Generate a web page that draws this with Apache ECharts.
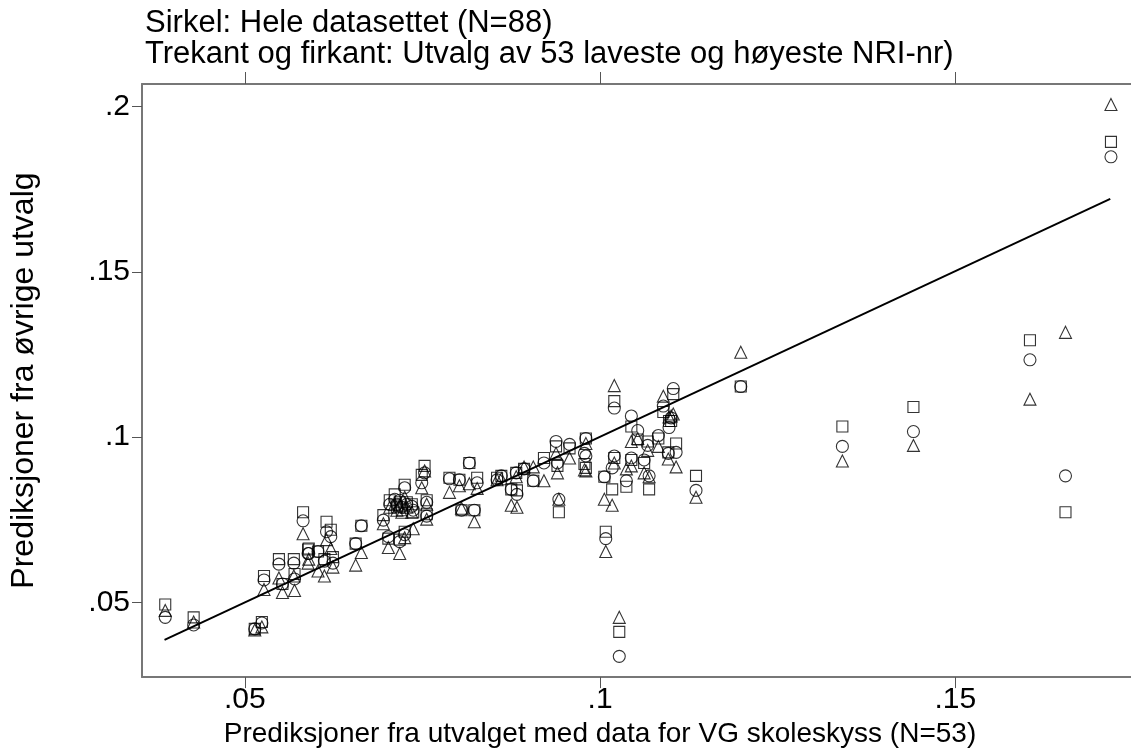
<!DOCTYPE html>
<html>
<head>
<meta charset="utf-8">
<script src="https://cdn.jsdelivr.net/npm/echarts@6/dist/echarts.min.js"></script>
<style>
html,body{margin:0;padding:0;background:#fff;}
#chart{width:1131px;height:753px;}
</style>
</head>
<body>
<div id="chart"></div>
<script>
const titleLines = ['Sirkel: Hele datasettet (N=88)', 'Trekant og firkant: Utvalg av 53 laveste og høyeste NRI-nr)'];
const xAxisTitle = 'Prediksjoner fra utvalget med data for VG skoleskyss (N=53)';
const yAxisTitle = 'Prediksjoner fra øvrige utvalg';
const xTicks = [0.05, 0.1, 0.15];
const yTicks = [0.05, 0.1, 0.15, 0.2];

const xValues = [0.0388,0.0428,0.0514,0.0524,0.0527,0.0548,0.0553,0.0569,0.0570,0.0582,0.0589,0.0590,0.0603,0.0612,0.0615,0.0621,0.0624,0.0656,0.0664,0.0695,0.0702,0.0718,0.0725,0.0704,0.0711,0.0725,0.0714,0.0721,0.0728,0.0735,0.0718,0.0737,0.0749,0.0753,0.0756,0.0756,0.0788,0.0802,0.0816,0.0823,0.0805,0.0827,0.0855,0.0861,0.0875,0.0883,0.0882,0.0893,0.0906,0.0921,0.0938,0.0940,0.0942,0.0957,0.0978,0.0980,0.0980,0.1006,0.1008,0.1017,0.1020,0.1020,0.1027,0.1037,0.1044,0.1044,0.1053,0.1062,0.1067,0.1069,0.1082,0.1089,0.1100,0.1103,0.1097,0.1107,0.1096,0.1135,0.1198,0.1341,0.1441,0.1605,0.1655,0.1719];

const ySquare = [0.0494,0.0455,0.0420,0.0441,0.0580,0.0631,0.0556,0.0631,0.0586,0.0773,0.0660,0.0663,0.0654,0.0631,0.0744,0.0720,0.0637,0.0678,0.0732,0.0764,0.0693,0.0690,0.0714,0.0809,0.0827,0.0856,0.0788,0.0779,0.0803,0.0797,0.0803,0.0773,0.0886,0.0913,0.0809,0.0767,0.0877,0.0871,0.0922,0.0779,0.0779,0.0877,0.0877,0.0883,0.0842,0.0839,0.0892,0.0904,0.0868,0.0937,0.0972,0.0913,0.0773,0.0966,0.0919,0.0996,0.0907,0.0880,0.0714,0.0842,0.1109,0.0937,0.0411,0.0850,0.1032,0.0931,0.0993,0.0922,0.0987,0.0842,0.0996,0.1076,0.1049,0.1130,0.1049,0.0981,0.0954,0.0883,0.1153,0.1032,0.1091,0.1293,0.0773,0.1893];

const yCircle = [0.0455,0.0432,0.0420,0.0438,0.0568,0.0616,0.0556,0.0619,0.0571,0.0747,0.0648,0.0648,0.0654,0.0625,0.0714,0.0699,0.0619,0.0678,0.0732,0.0749,0.0699,0.0684,0.0705,0.0797,0.0812,0.0847,0.0797,0.0788,0.0797,0.0791,0.0809,0.0779,0.0862,0.0892,0.0803,0.0761,0.0874,0.0871,0.0922,0.0779,0.0779,0.0862,0.0871,0.0883,0.0842,0.0827,0.0892,0.0904,0.0868,0.0922,0.0987,0.0922,0.0812,0.0978,0.0951,0.0996,0.0943,0.0880,0.0693,0.0907,0.1088,0.0943,0.0337,0.0868,0.1064,0.0937,0.1020,0.0931,0.0975,0.0883,0.1005,0.1094,0.1058,0.1147,0.1029,0.0954,0.0951,0.0839,0.1153,0.0972,0.1017,0.1234,0.0883,0.1848];

const yTriangle = [0.0476,0.0441,0.0417,0.0426,0.0539,0.0574,0.0530,0.0580,0.0536,0.0708,0.0619,0.0631,0.0595,0.0580,0.0690,0.0663,0.0607,0.0613,0.0651,0.0738,0.0666,0.0648,0.0696,0.0788,0.0797,0.0818,0.0779,0.0773,0.0788,0.0773,0.0794,0.0723,0.0847,0.0898,0.0797,0.0752,0.0833,0.0853,0.0859,0.0744,0.0785,0.0845,0.0871,0.0874,0.0794,0.0788,0.0880,0.0910,0.0910,0.0868,0.0951,0.0892,0.0812,0.0937,0.0901,0.0981,0.0898,0.0812,0.0654,0.0794,0.1156,0.0922,0.0455,0.0904,0.0987,0.0913,0.0996,0.0892,0.0960,0.0880,0.0972,0.1124,0.1064,0.1070,0.1061,0.0910,0.0934,0.0818,0.1257,0.0928,0.0975,0.1115,0.1317,0.2006];

const fitLineX = [0.0387, 0.1718];
const fitLineY = [0.0387, 0.1721];

const FONT = '"Liberation Sans", Arial, Helvetica, sans-serif';
const fmt = v => String(+v.toFixed(4)).replace(/^0\./, '.');

function pts(ys) { return xValues.map((x, i) => [x, ys[i]]); }

const markerStyle = { color: 'rgba(0,0,0,0)', borderColor: '#000', borderWidth: 1.1 };

const chart = echarts.init(document.getElementById('chart'), null, { renderer: 'canvas' });
chart.setOption({
  animation: false,
  backgroundColor: '#fff',
  textStyle: { fontFamily: FONT, color: '#000' },
  title: {
    text: titleLines.join('\n'),
    left: 140, top: 3,
    textStyle: { fontFamily: FONT, fontSize: 31, fontWeight: 'normal', color: '#000', lineHeight: 31 }
  },
  grid: { left: 140, right: 0, top: 84, bottom: 65, containLabel: false },
  xAxis: [{
    type: 'value', position: 'bottom',
    min: 0.03553, max: 0.17472,
    splitLine: { show: false },
    axisLine: { show: true, onZero: false, lineStyle: { color: '#777', width: 2 } },
    axisTick: { show: true, length: 11, customValues: xTicks, lineStyle: { color: '#555', width: 1 } },
    axisLabel: { customValues: xTicks, formatter: fmt, fontSize: 30, color: '#000', fontFamily: FONT, margin: 8 },
    name: xAxisTitle, nameLocation: 'middle', nameGap: 38,
    nameTextStyle: { fontSize: 28, color: '#000', fontFamily: FONT, padding: [0, 73, 0, 0] }
  }, {
    type: 'value', position: 'top',
    min: 0.03553, max: 0.17472,
    splitLine: { show: false },
    axisLine: { show: true, onZero: false, lineStyle: { color: '#777', width: 2 } },
    axisTick: { show: true, length: 12, customValues: xTicks, lineStyle: { color: '#555', width: 1 } },
    axisLabel: { show: false }
  }],
  yAxis: {
    type: 'value',
    min: 0.02742, max: 0.20682,
    splitLine: { show: false },
    axisLine: { show: true, onZero: false, lineStyle: { color: '#777', width: 2 } },
    axisTick: { show: true, length: 10, customValues: yTicks, lineStyle: { color: '#555', width: 1 } },
    axisLabel: { customValues: yTicks, formatter: fmt, fontSize: 30, color: '#000', fontFamily: FONT, margin: 12 },
    name: yAxisTitle, nameLocation: 'middle', nameGap: 102, nameRotate: 90,
    nameTextStyle: { fontSize: 32, color: '#000', fontFamily: FONT }
  },
  series: [
    {
      name: 'Sirkel', type: 'scatter', xAxisIndex: 0, symbol: 'circle', symbolSize: 12,
      data: pts(yCircle), itemStyle: markerStyle, z: 3
    },
    {
      name: 'Trekant', type: 'scatter', xAxisIndex: 0, symbol: 'triangle', symbolSize: 12,
      data: pts(yTriangle), itemStyle: markerStyle, z: 3
    },
    {
      name: 'Firkant', type: 'scatter', xAxisIndex: 0, symbol: 'rect', symbolSize: 11,
      data: pts(ySquare), itemStyle: markerStyle, z: 3
    },
    {
      name: 'Linje', type: 'line', xAxisIndex: 0, symbol: 'none',
      data: fitLineX.map((x, i) => [x, fitLineY[i]]),
      lineStyle: { color: '#000', width: 2 }, z: 4
    }
  ]
});
</script>
</body>
</html>
